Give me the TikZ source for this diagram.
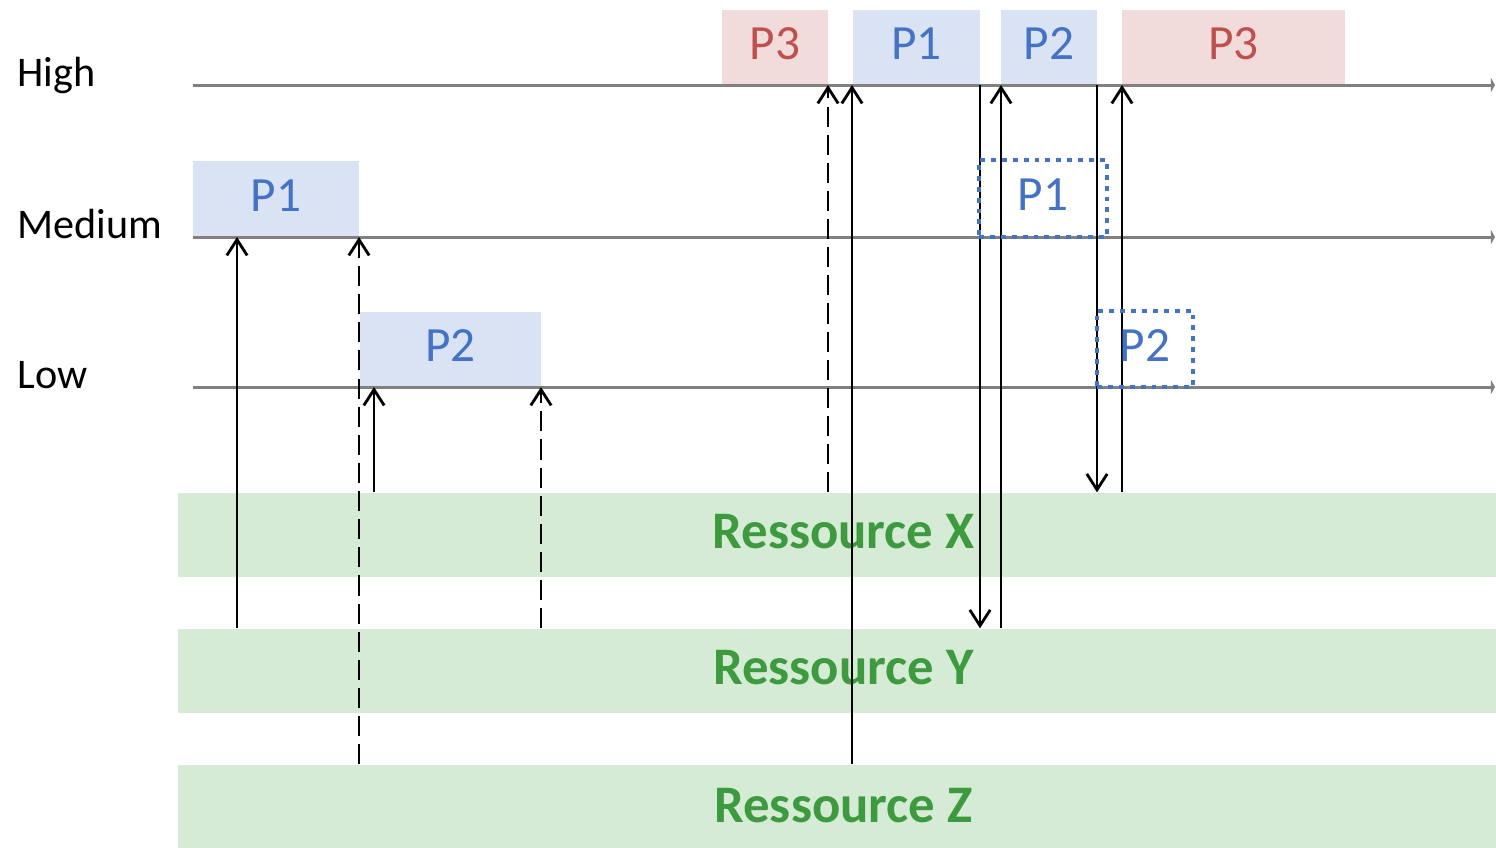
\documentclass[tikz,border=0pt]{standalone}
\usepackage{fontspec}
\setmainfont{Carlito}
\usetikzlibrary{arrows.meta,positioning,fit}
\definecolor{BLUE}{HTML}{4472C4}
\definecolor{LBLUE}{HTML}{DAE3F3}
\definecolor{RED}{HTML}{C0504D}
\definecolor{LRED}{HTML}{F2DCDB}
\definecolor{GREEN}{HTML}{3D9A3F}
\definecolor{LGREEN}{HTML}{D5EBD5}
\definecolor{AXIS}{HTML}{808080}

\begin{document}
\begin{tikzpicture}[x=0.01cm,y=-0.01cm]
\tikzstyle{prio}=[anchor=base west,inner sep=0pt,font=\fontsize{12}{14}\selectfont]
\tikzstyle{timeline}=[draw=AXIS,line width=0.85pt,-{Triangle[length=1.2pt,width=4.2pt]}]
\tikzstyle{job}=[inner sep=0pt,font=\fontsize{14}{16}\selectfont]
\tikzstyle{blue job}=[job,fill=LBLUE,text=BLUE]
\tikzstyle{red job}=[job,fill=LRED,text=RED]
\tikzstyle{waiting job}=[job,text=BLUE,draw=BLUE,line width=1.15pt,dash pattern=on 1.4pt off 1.7pt]
\tikzstyle{resource}=[inner sep=0pt,fill=LGREEN,text=GREEN,font=\fontsize{15}{18}\selectfont\bfseries]
\tikzstyle{myEdge}=[black,line width=0.8pt,-{Straight Barb[length=4.5pt,width=5.8pt]}]
\tikzstyle{release}=[myEdge,dash pattern=on 5.7pt off 2.3pt]

%% fit puts the baseline near the centre, so drop the text back
\newcommand{\job}[4]{
\node[#1,fit={#3}] (#2) {\raisebox{-.78\height}{#4}};
}

\useasboundingbox (0,0) rectangle (1496,847);

%% running jobs
\job{blue job}{midP1}{(193,161) (359,237)}{P1}
\job{blue job}{loP2}{(360,312) (541,387)}{P2}
\job{red job}{hiP3a}{(722,10) (828,85)}{P3}
\job{blue job}{hiP1}{(853,10) (980,85)}{P1}
\job{blue job}{hiP2}{(1001,10) (1097,85)}{P2}
\job{red job}{hiP3b}{(1122,10) (1345,85)}{P3}

%% priority levels
\foreach \n/\y/\t in {hi/85/High, mid/237/Medium, lo/387/Low}{
    \node[prio] (\n Label) at (17,\y+1) {\t};
    \coordinate (\n) at (193,\y);
    \coordinate (\n End) at (1495,\y);
    \draw[timeline] (\n) -- (\n End);
}

%% resources
\job{resource}{resX}{(178,493) (1509,577)}{Ressource X}
\job{resource}{resY}{(178,629) (1509,713)}{Ressource Y}
\job{resource}{resZ}{(178,765) (1509,853)}{Ressource Z}

%% lock / unlock
\foreach \x/\a/\b/\s in {237/resY/mid/myEdge, 359/resZ/mid/release,
    374/resX/lo/myEdge, 541/resY/lo/release, 828/resX/hi/release,
    852/resZ/hi/myEdge, 1001/resY/hi/myEdge, 1122/resX/hi/myEdge}
    \draw[\s] (\a.north -| \x,0) -- (\b -| \x,0);

\draw[myEdge] (hi -| 980,0) -- (resY.north -| 980,0);
\draw[myEdge] (hi -| 1097,0) -- (resX.north -| 1097,0);

%% preempted jobs
\job{waiting job}{midP1w}{(979,160) (1107,237)}{P1}
\job{waiting job}{loP2w}{(1097,311) (1193,387)}{P2}
\end{tikzpicture}
\end{document}
